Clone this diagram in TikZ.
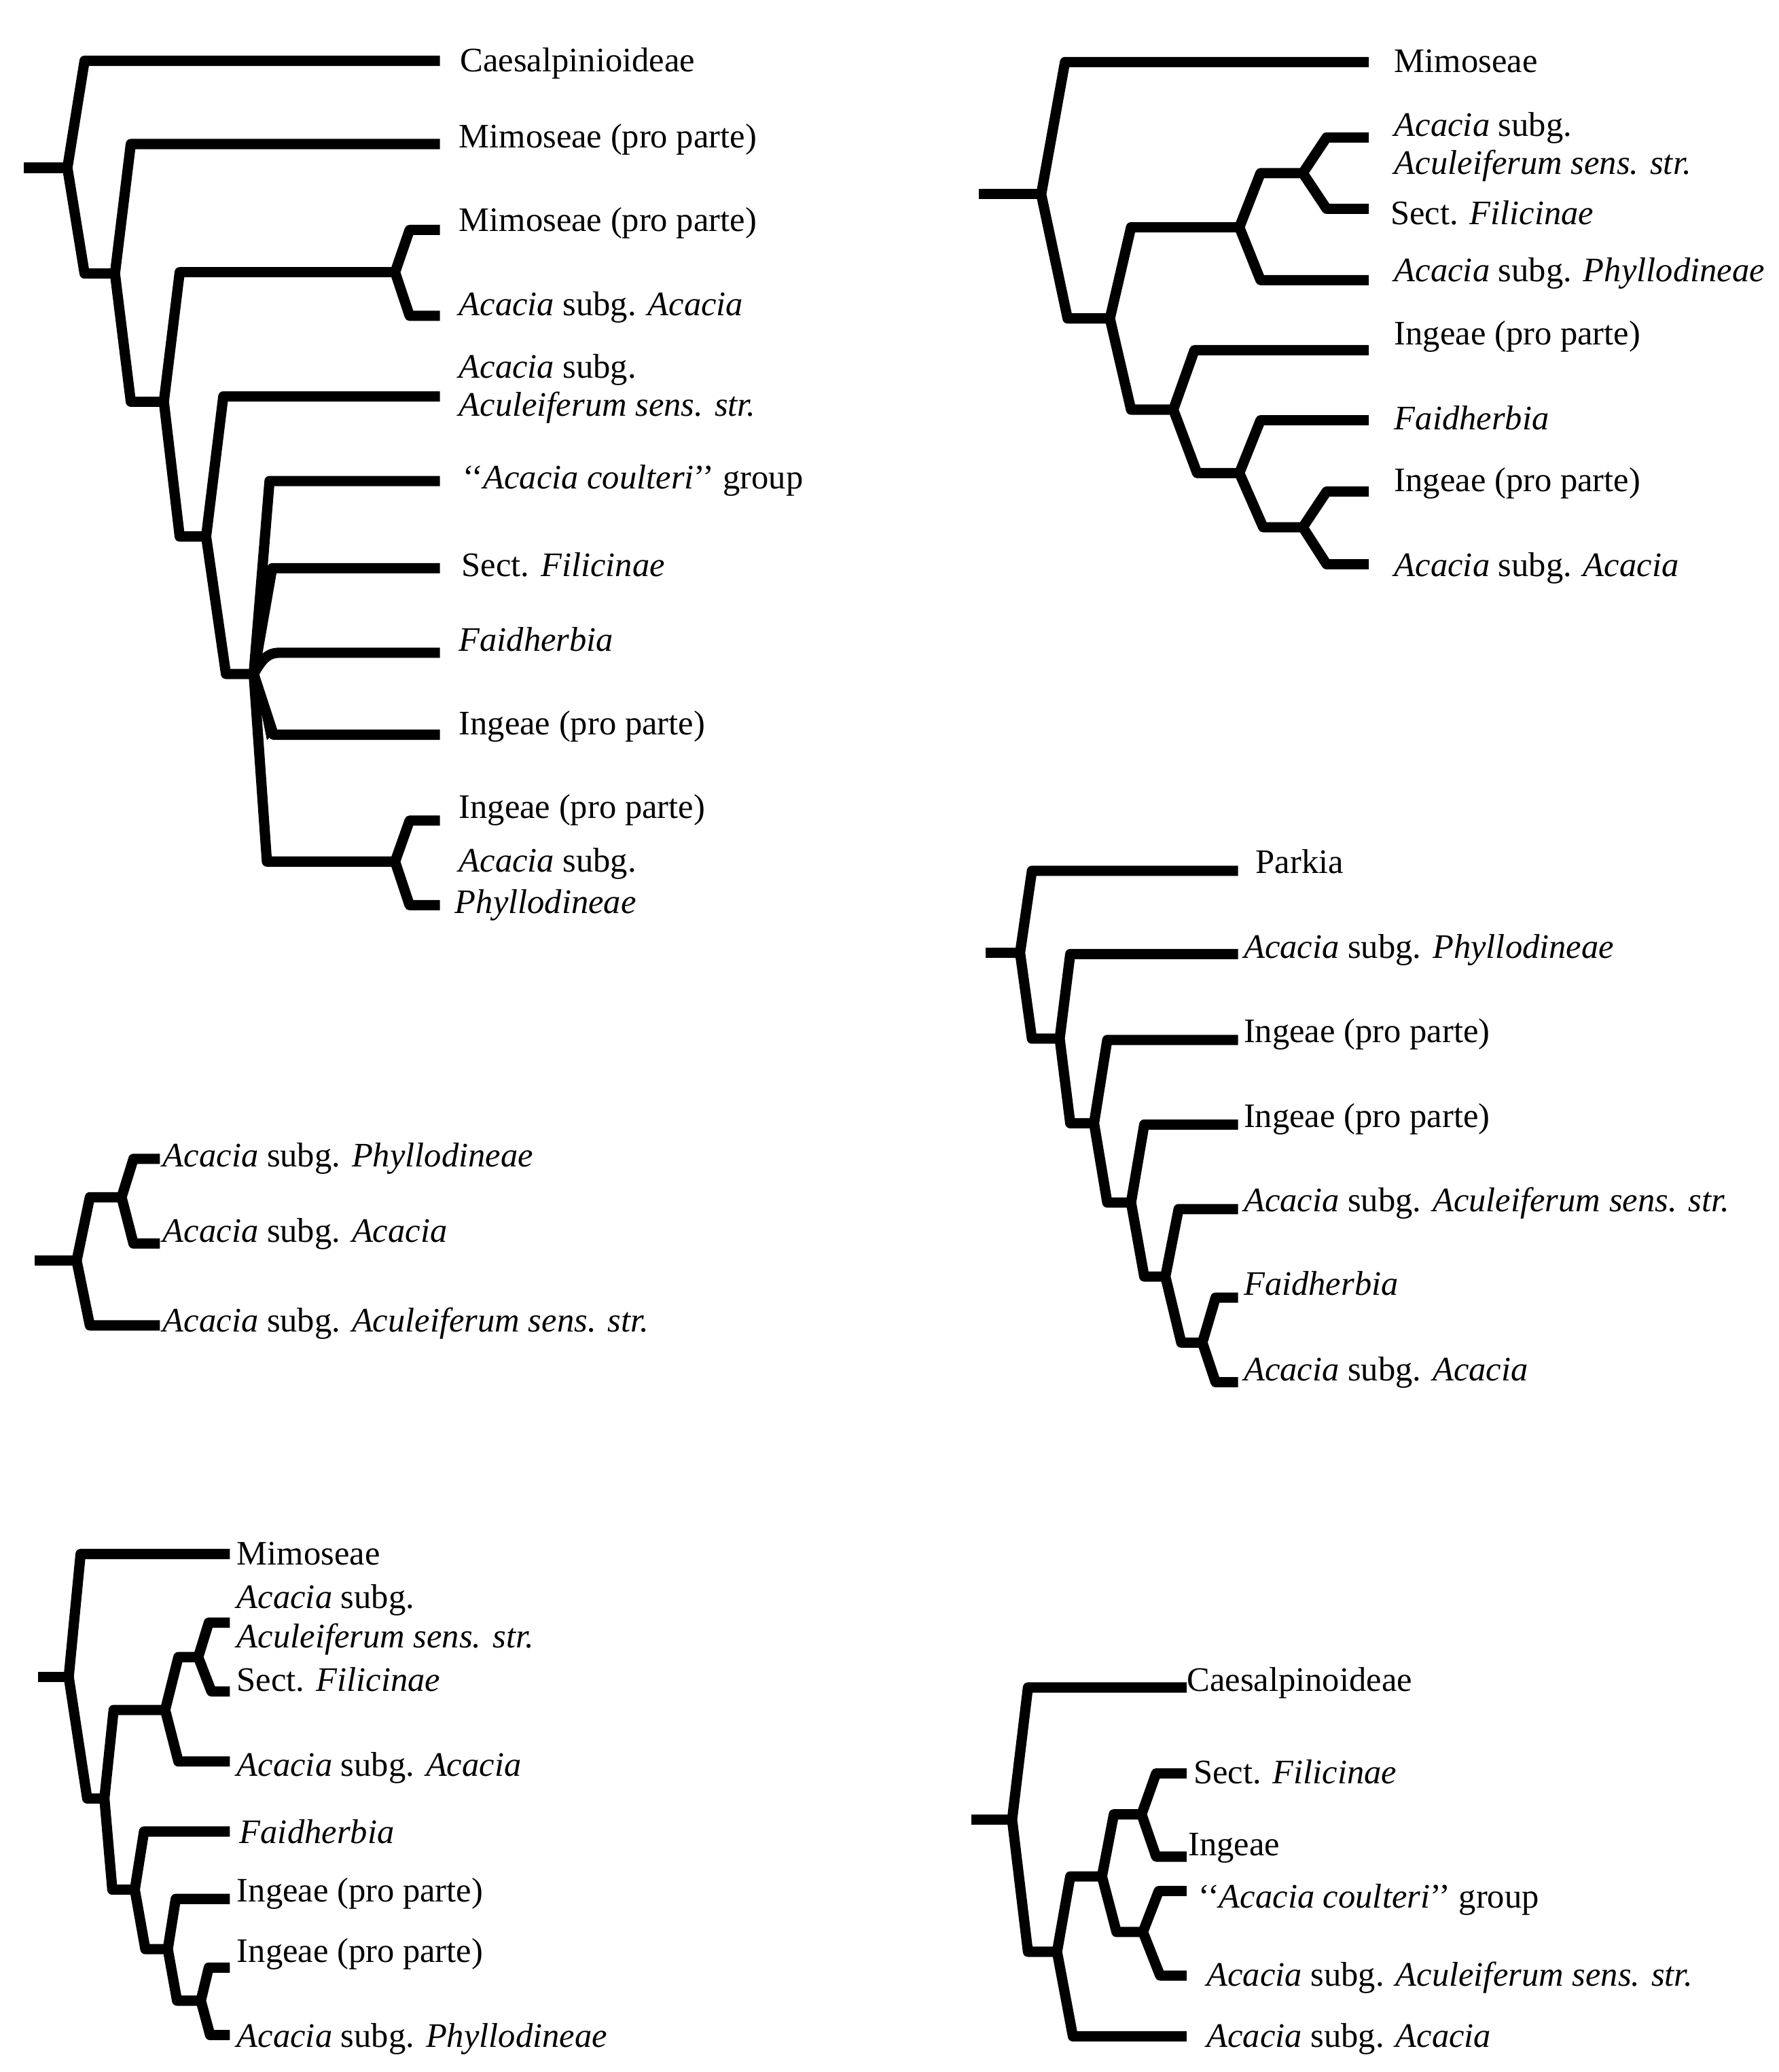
\documentclass[tikz,border=0pt]{standalone}
\usepackage{fontspec}
\setmainfont{Liberation Serif}

\begin{document}
\begin{tikzpicture}[
  x=0.02cm,y=-0.02cm,
  font=\fontsize{14.8}{18}\selectfont,
  br/.style={line width=0.155cm,line join=round},
  lab/.style={anchor=base west,inner sep=0pt}
]
\fill[white] (0,0) rectangle (1346,1568);

% tree 1 (top left)
\coordinate (A) at (18,127);
\coordinate (A0) at (51,127);
\coordinate (A1) at (87,207);
\coordinate (A2) at (124,304);
\coordinate (A3) at (299,206);
\coordinate (A4) at (156,406);
\coordinate (A5) at (192,510);
\coordinate (A6) at (299,652);
\foreach \t/\y in {1/46,2/109,3/174,4/239,5/300,6/364,7/430,8/494,9/556,10/621,11/685}
  {\coordinate (At\t) at (333,\y);}
\draw[br] (A) -- (A0);
\foreach \n/\ux/\uy/\ut/\dx/\dy/\dt in {A0/64/46/At1/64/207/A1, A1/99/109/At2/99/304/A2,
    A2/136/206/A3/136/406/A4, A3/310/174/At3/310/239/At4, A4/169/300/At5/171/510/A5,
    A5/204/364/At6/202/652/A6, A6/310/621/At10/310/685/At11}
  {\draw[br] (\ut) -- (\ux,\uy) -- (\n) -- (\dx,\dy) -- (\dt);}
\draw[br] (A5) -- (206,430) -- (At7);
\draw[br] (A5) to[out=60,in=180] (211,494) -- (At8);
\draw[br] (A5) -- (207,556) -- (At9);
\fill (A5) -- (210,553) -- (202,560) -- cycle;

\node[lab] (a1) at (348,54) {Caesalpinioideae};
\node[lab] (a2) at (347,112) {Mimoseae (pro parte)};
\node[lab] (a3) at (347,175) {Mimoseae (pro parte)};
\node[lab] (a4) at (347,239) {\textit{Acacia} subg. \textit{Acacia}};
\node[lab] (a5) at (347,286) {\textit{Acacia} subg.};
\node[lab] (a6) at (347,315) {\textit{Aculeiferum sens. str.}};
\node[lab] (a7) at (350,370) {`{}`\textit{Acacia coulteri}'{}' group};
\node[lab] (a8) at (349,436) {Sect. \textit{Filicinae}};
\node[lab] (a9) at (347,493) {\textit{Faidherbia}};
\node[lab] (a10) at (347,556) {Ingeae (pro parte)};
\node[lab] (a11) at (347,619) {Ingeae (pro parte)};
\node[lab] (a12) at (347,660) {\textit{Acacia} subg.};
\node[lab] (a13) at (344,691) {\textit{Phyllodineae}};

% tree 2 (top right)
\coordinate (B) at (741,147);
\coordinate (B0) at (788,147);
\coordinate (B1) at (840,241);
\coordinate (B2) at (938,172);
\coordinate (B3) at (986,131);
\coordinate (B4) at (888,310);
\coordinate (B5) at (938,358);
\coordinate (B6) at (986,399);
\foreach \t/\y in {1/47,2/104,3/158,4/212,5/265,6/318,7/372,8/427}
  {\coordinate (Bt\t) at (1036,\y);}
\draw[br] (B) -- (B0);
\foreach \n/\ux/\uy/\ut/\dx/\dy/\dt in {B0/806/47/Bt1/808/241/B1, B1/856/172/B2/856/310/B4,
    B2/954/131/B3/954/212/Bt4, B3/1004/104/Bt2/1004/158/Bt3, B4/904/265/Bt5/906/358/B5,
    B5/954/318/Bt6/956/399/B6, B6/1004/372/Bt7/1004/427/Bt8}
  {\draw[br] (\ut) -- (\ux,\uy) -- (\n) -- (\dx,\dy) -- (\dt);}

\node[lab] (b1) at (1055,55) {Mimoseae};
\node[lab] (b2) at (1055,103) {\textit{Acacia} subg.};
\node[lab] (b3) at (1055,132) {\textit{Aculeiferum sens. str.}};
\node[lab] (b4) at (1052,170) {Sect. \textit{Filicinae}};
\node[lab] (b5) at (1055,213) {\textit{Acacia} subg. \textit{Phyllodineae}};
\node[lab] (b6) at (1055,261) {Ingeae (pro parte)};
\node[lab] (b7) at (1055,325) {\textit{Faidherbia}};
\node[lab] (b8) at (1055,372) {Ingeae (pro parte)};
\node[lab] (b9) at (1055,436) {\textit{Acacia} subg. \textit{Acacia}};

% tree 3 (middle right)
\coordinate (C) at (746,721);
\coordinate (C0) at (772,721);
\coordinate (C1) at (802,786);
\coordinate (C2) at (828,850);
\coordinate (C3) at (856,910);
\coordinate (C4) at (882,966);
\coordinate (C5) at (910,1016);
\foreach \t/\y in {1/659,2/722,3/787,4/851,5/915,6/982,7/1046}
  {\coordinate (Ct\t) at (937,\y);}
\draw[br] (C) -- (C0);
\foreach \n/\ux/\uy/\ut/\dx/\dy/\dt in {C0/781/659/Ct1/781/786/C1, C1/810/722/Ct2/810/850/C2,
    C2/838/787/Ct3/838/910/C3, C3/866/851/Ct4/866/966/C4, C4/892/915/Ct5/894/1016/C5,
    C5/920/982/Ct6/920/1046/Ct7}
  {\draw[br] (\ut) -- (\ux,\uy) -- (\n) -- (\dx,\dy) -- (\dt);}

\node[lab] (c1) at (950,661) {Parkia};
\node[lab] (c2) at (941,725) {\textit{Acacia} subg. \textit{Phyllodineae}};
\node[lab] (c3) at (941,789) {Ingeae (pro parte)};
\node[lab] (c4) at (941,853) {Ingeae (pro parte)};
\node[lab] (c5) at (941,917) {\textit{Acacia} subg. \textit{Aculeiferum sens. str.}};
\node[lab] (c6) at (941,980) {\textit{Faidherbia}};
\node[lab] (c7) at (941,1045) {\textit{Acacia} subg. \textit{Acacia}};

% tree 4 (middle left)
\coordinate (D) at (26,954);
\coordinate (D0) at (58,954);
\coordinate (D1) at (92,906);
\foreach \t/\y in {1/877,2/941,3/1003}
  {\coordinate (Dt\t) at (121,\y);}
\draw[br] (D) -- (D0);
\foreach \n/\ux/\uy/\ut/\dx/\dy/\dt in {D0/68/906/D1/68/1003/Dt3, D1/101/877/Dt1/101/941/Dt2}
  {\draw[br] (\ut) -- (\ux,\uy) -- (\n) -- (\dx,\dy) -- (\dt);}

\node[lab] (d1) at (123,883) {\textit{Acacia} subg. \textit{Phyllodineae}};
\node[lab] (d2) at (123,940) {\textit{Acacia} subg. \textit{Acacia}};
\node[lab] (d3) at (123,1008) {\textit{Acacia} subg. \textit{Aculeiferum sens. str.}};

% tree 5 (bottom left)
\coordinate (E) at (29,1269);
\coordinate (E0) at (52,1269);
\coordinate (E1) at (79,1361);
\coordinate (E2) at (125,1294);
\coordinate (E3) at (150,1254);
\coordinate (E4) at (102,1430);
\coordinate (E5) at (127,1475);
\coordinate (E6) at (152,1514);
\foreach \t/\y in {1/1176,2/1228,3/1280,4/1333,5/1386,6/1437,7/1489,8/1540}
  {\coordinate (Et\t) at (174,\y);}
\draw[br] (E) -- (E0);
\foreach \n/\ux/\uy/\ut/\dx/\dy/\dt in {E0/61/1176/Et1/66/1361/E1, E1/86/1294/E2/85/1430/E4,
    E2/135/1254/E3/135/1333/Et4, E3/158/1228/Et2/160/1280/Et3, E4/109/1386/Et5/110/1475/E5,
    E5/133/1437/Et6/134/1514/E6, E6/158/1489/Et7/159/1540/Et8}
  {\draw[br] (\ut) -- (\ux,\uy) -- (\n) -- (\dx,\dy) -- (\dt);}

\node[lab] (e1) at (179,1184) {Mimoseae};
\node[lab] (e2) at (179,1217) {\textit{Acacia} subg.};
\node[lab] (e3) at (179,1247) {\textit{Aculeiferum sens. str.}};
\node[lab] (e4) at (179,1280) {Sect. \textit{Filicinae}};
\node[lab] (e5) at (179,1344) {\textit{Acacia} subg. \textit{Acacia}};
\node[lab] (e6) at (181,1395) {\textit{Faidherbia}};
\node[lab] (e7) at (179,1439) {Ingeae (pro parte)};
\node[lab] (e8) at (179,1485) {Ingeae (pro parte)};
\node[lab] (e9) at (179,1549) {\textit{Acacia} subg. \textit{Phyllodineae}};

% tree 6 (bottom right)
\coordinate (F) at (735,1377);
\coordinate (F0) at (766,1377);
\coordinate (F1) at (800,1477);
\coordinate (F2) at (834,1420);
\coordinate (F3) at (864,1373);
\coordinate (F4) at (865,1462);
\foreach \t/\y in {1/1277,2/1342,3/1405,4/1431,5/1495,6/1541}
  {\coordinate (Ft\t) at (898,\y);}
\draw[br] (F) -- (F0);
\foreach \n/\ux/\uy/\ut/\dx/\dy/\dt in {F0/778/1277/Ft1/778/1477/F1, F1/810/1420/F2/812/1541/Ft6,
    F2/843/1373/F3/845/1462/F4, F3/875/1342/Ft2/875/1405/Ft3, F4/877/1431/Ft4/878/1495/Ft5}
  {\draw[br] (\ut) -- (\ux,\uy) -- (\n) -- (\dx,\dy) -- (\dt);}

\node[lab] (f1) at (898,1280) {Caesalpinoideae};
\node[lab] (f2) at (903,1350) {Sect. \textit{Filicinae}};
\node[lab] (f3) at (899,1404) {Ingeae};
\node[lab] (f4) at (907,1444) {`{}`\textit{Acacia coulteri}'{}' group};
\node[lab] (f5) at (913,1503) {\textit{Acacia} subg. \textit{Aculeiferum sens. str.}};
\node[lab] (f6) at (913,1549) {\textit{Acacia} subg. \textit{Acacia}};
\end{tikzpicture}
\end{document}
